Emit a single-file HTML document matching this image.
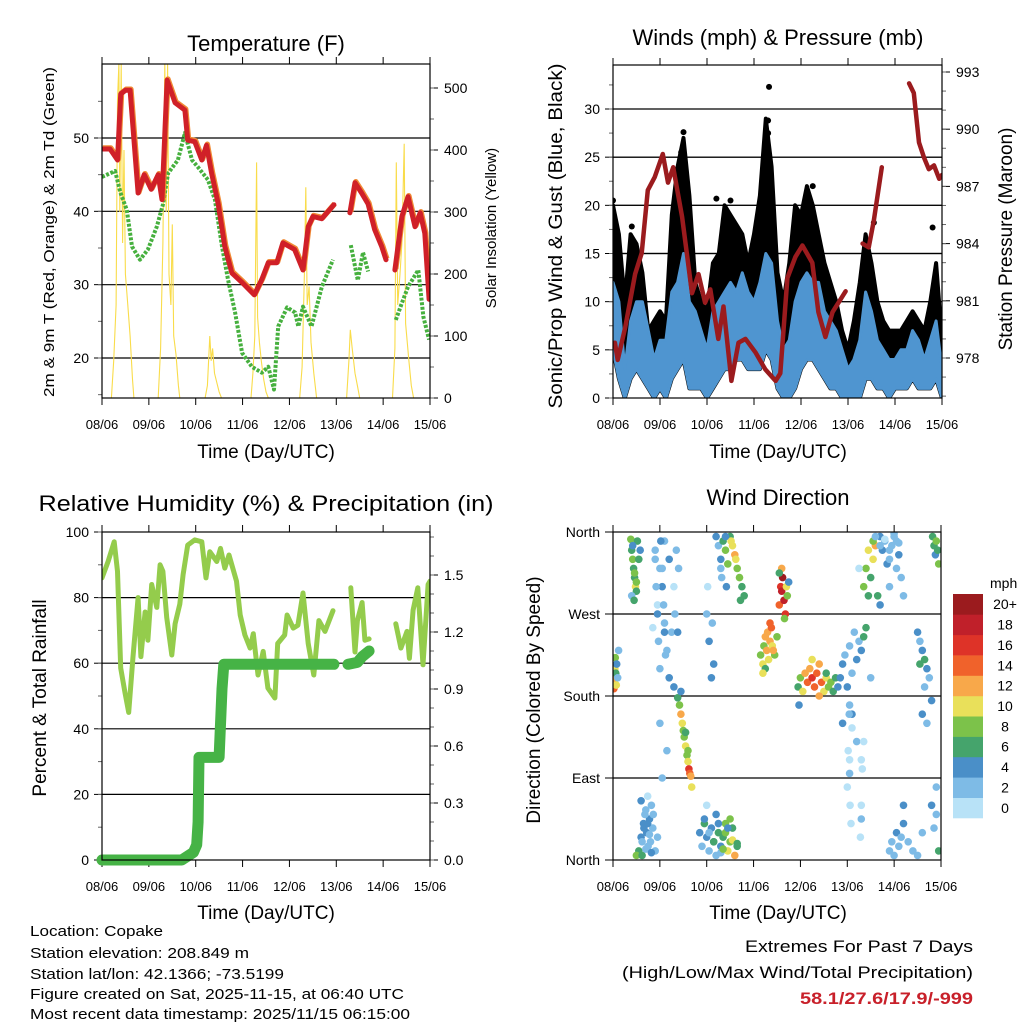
<!DOCTYPE html>
<html><head><meta charset="utf-8"><style>
html,body{margin:0;padding:0;background:#fff}
svg{display:block;font-family:"Liberation Sans",sans-serif}
</style></head><body>
<svg id="chart" width="1024" height="1024" viewBox="0 0 1024 1024" xmlns="http://www.w3.org/2000/svg">
<rect width="1024" height="1024" fill="#fff"/>
<text x="266" y="51" font-size="22" text-anchor="middle">Temperature (F)</text>
<text x="778" y="45" font-size="22" text-anchor="middle">Winds (mph) &amp; Pressure (mb)</text>
<text x="266" y="511" font-size="22" text-anchor="middle" textLength="455" lengthAdjust="spacingAndGlyphs">Relative Humidity (%) &amp; Precipitation (in)</text>
<text x="778" y="505" font-size="22" text-anchor="middle">Wind Direction</text>
<text transform="translate(54,232) rotate(-90)" font-size="15" text-anchor="middle" textLength="330" lengthAdjust="spacingAndGlyphs">2m &amp; 9m T (Red, Orange) &amp; 2m Td (Green)</text>
<text transform="translate(496,228) rotate(-90)" font-size="15" text-anchor="middle">Solar Insolation (Yellow)</text>
<text transform="translate(562,236) rotate(-90)" font-size="19" text-anchor="middle" textLength="345" lengthAdjust="spacingAndGlyphs">Sonic/Prop Wind &amp; Gust (Blue, Black)</text>
<text transform="translate(1012,239) rotate(-90)" font-size="19" text-anchor="middle">Station Pressure (Maroon)</text>
<text transform="translate(46,698) rotate(-90)" font-size="19" text-anchor="middle">Percent &amp; Total Rainfall</text>
<text transform="translate(540,700) rotate(-90)" font-size="19" text-anchor="middle">Direction (Colored By Speed)</text>
<text x="266" y="458" font-size="19" text-anchor="middle">Time (Day/UTC)</text>
<text x="778" y="458" font-size="19" text-anchor="middle">Time (Day/UTC)</text>
<text x="266" y="919" font-size="19" text-anchor="middle">Time (Day/UTC)</text>
<text x="778" y="919" font-size="19" text-anchor="middle">Time (Day/UTC)</text>
<g font-size="15">
<text x="30" y="936" textLength="133" lengthAdjust="spacingAndGlyphs">Location: Copake</text>
<text x="30" y="958" textLength="219" lengthAdjust="spacingAndGlyphs">Station elevation: 208.849 m</text>
<text x="30" y="979" textLength="254" lengthAdjust="spacingAndGlyphs">Station lat/lon: 42.1366; -73.5199</text>
<text x="30" y="999" textLength="374" lengthAdjust="spacingAndGlyphs">Figure created on Sat, 2025-11-15, at 06:40 UTC</text>
<text x="30" y="1019" textLength="380" lengthAdjust="spacingAndGlyphs">Most recent data timestamp: 2025/11/15 06:15:00</text>
</g>
<g font-size="17" text-anchor="end">
<text x="973" y="952" textLength="228" lengthAdjust="spacingAndGlyphs">Extremes For Past 7 Days</text>
<text x="973" y="978" textLength="351" lengthAdjust="spacingAndGlyphs">(High/Low/Max Wind/Total Precipitation)</text>
<text x="973" y="1004" font-weight="bold" fill="#c8202a" textLength="173" lengthAdjust="spacingAndGlyphs">58.1/27.6/17.9/-999</text>
</g>
</svg>
<script>
// ---------- DATA ----------
const dayLabels = ["08/06","09/06","10/06","11/06","12/06","13/06","14/06","15/06"];
// Temperature (F)
const tempT = [0,0.17,0.33,0.4,0.5,0.6,0.77,0.9,1.05,1.2,1.28,1.39,1.56,1.77,1.83,1.98,2.13,2.23,2.34,2.48,2.62,2.77,2.99,3.25,3.41,3.55,3.73,3.86,4.11,4.29,4.4,4.5,4.69,4.95,null,5.29,5.4,5.54,5.68,5.82,5.97,6.06,null,6.25,6.4,6.53,6.68,6.79,6.89,6.98];
const tempF = [48.5,48.5,47,56,56.5,56.5,42.5,45,43,45,41.6,57.9,54.8,53.8,49.7,49.5,47,49,45.2,41,35.2,31.6,30.3,28.6,30.7,33,33,35.7,34.8,32,37.9,39.3,39,40.9,null,39.8,43.9,42.5,41,37.5,35.2,33.4,null,32,39.3,42,37.9,39.8,37,28];
const dewT = [0,0.28,0.39,0.53,0.64,0.81,0.98,1.17,1.3,1.41,1.62,1.77,1.92,2.05,2.26,2.41,2.56,2.69,2.84,2.99,3.2,3.41,3.55,3.67,3.76,3.95,4.12,4.19,4.29,4.47,4.69,4.93,null,5.31,5.46,5.57,5.68,null,6.27,6.4,6.53,6.75,6.86,6.98];
const dewF = [44.7,45.5,42.6,40.2,35.2,33.4,34.8,37.9,40.9,45.2,47,50.7,47,46,44.3,41.6,35.2,30.7,26.2,20.7,18.8,18,18.8,15.7,24.3,26.9,26.2,24.3,27,24.3,29.7,33.4,null,35.4,30.6,34.4,31.8,null,25.2,27.5,29.7,32,25.6,22.5];
const solarT = [0.2,0.25,0.3,0.33,0.36,0.38,0.41,0.44,0.47,0.5,0.55,0.6,0.65,0.68, 1.2,1.25,1.3,1.34,1.37,1.4,1.43,1.47,1.5,1.53,1.58,1.63,1.66, 2.2,2.25,2.3,2.33,2.36,2.4,2.45,2.5,2.55, 3.18,3.22,3.26,3.3,3.32,3.36,3.4,3.45,3.5,3.55, 4.22,4.27,4.32,4.35,4.38,4.42,4.46,4.52,4.58, 5.22,5.27,5.3,5.34,5.4,5.45,5.5, 6.2,6.25,6.28,6.31,6.36,6.4,6.45,6.48,6.55,6.6,6.65];
const solarW = [0,60,150,480,540,300,540,250,400,200,150,100,30,0, 0,80,250,540,300,540,200,150,280,100,70,20,0, 0,20,100,60,80,40,25,10,0, 0,40,100,380,130,90,60,30,10,0, 0,50,200,340,150,180,90,40,0, 0,60,110,80,40,20,0, 0,80,380,150,200,250,410,120,60,20,0];
// Winds (mph)
const windT = [0,0.125,0.25,0.375,0.5,0.625,0.75,0.875,1,1.125,1.25,1.375,1.5,1.625,1.75,1.875,2,2.125,2.25,2.375,2.5,2.625,2.75,2.875,3,3.125,3.25,3.375,3.5,3.625,3.75,3.875,4,4.125,4.25,4.375,4.5,4.625,4.75,4.875,5,5.125,5.25,5.375,5.5,5.625,5.75,5.875,6,6.125,6.25,6.375,6.5,6.625,6.75,6.875,7];
const windMax = [12,10,3,8,10,10,7,4, 6,6,11,12,15,10,9,7, 5,9,10,11,12,11,13,11, 10,12,15,14,8,5,6,10, 12,13,12,12,9,8,7,5, 3,4,6,11,9,6,5,4, 4,5,5,7,6,4,6,8,3];
const windMin = [5,2,0,2,3,2,1,0, 1,0,2,3,4,1,1,1, 0,1,2,3,3,4,4,3, 3,3,5,4,1,0,0,1, 3,4,4,3,2,1,1,0, 0,0,0,2,2,1,1,0, 1,1,1,2,1,1,1,2,0];
const gustMax = [20,17,10,17,16,13,7,8, 9,8,19,24,27,21,12,10, 9,14,15,20,19,18,17,14, 17,21,29,24,13,10,14,20, 19,22,20,17,14,12,10,7, 5,8,12,17,14,10,8,7, 7,7,8,9,8,7,10,14,6];
const gustPeakT = [0,0.4,1.45,1.5,2.2,2.5,3.3,3.3,3.32,4.25,5.55,6.8];
const gustPeakV = [20.5,17.8,25.5,27.6,20.7,20.5,27.5,28.8,32.3,22,18.2,17.7];
// Pressure (mb)
const presT = [0.04,0.1,0.26,0.47,0.61,0.74,0.89,1.06,1.17,1.28,1.47,1.68,1.82,1.96,2.07,2.24,2.35,2.52,2.67,2.82,3.03,3.24,3.46,3.56,3.71,3.88,4.03,4.24,4.37,4.52,4.67,4.95,null,5.31,5.44,5.55,5.72,null,6.3,6.4,6.51,6.62,6.72,6.83,6.94,7];
const presMb = [978.8,977.9,979.6,982.4,983.5,986.8,987.5,988.7,987.2,988,985.4,981.4,982.4,980.9,981.6,979,980.7,976.8,978.8,979,978.3,977.4,976.8,977.2,982.2,983.3,983.9,983,980.4,979.1,980.4,981.5,null,984,983.8,985.2,988,null,992.4,991.9,989.3,988.5,987.9,988.1,987.4,987.6];
// Relative humidity (%) and rainfall (in)
const rhT = [0,0.13,0.26,0.33,0.4,0.49,0.57,0.66,0.77,0.83,0.92,0.98,1.06,1.17,1.24,1.3,1.38,1.49,1.56,1.66,1.73,1.83,1.98,2.13,2.22,2.3,2.45,2.53,2.62,2.71,2.87,2.95,3.05,3.16,3.23,3.33,3.44,3.54,3.69,3.75,3.9,3.95,4.08,4.18,4.29,4.4,4.52,4.63,4.76,4.93,null,5.31,5.4,5.45,5.55,5.61,5.7,null,6.27,6.38,6.51,6.56,6.64,6.74,6.85,6.96,7];
const rhPct = [86,91,97,88,58.5,51,45,61.6,80,62,75.6,67,84,77,90,88,74,62.5,72,78,87,96,97.6,97,86,94,91,95,89,93,85,74.7,68.6,64.6,69,56.4,63.6,52.4,49.4,66,68.6,74.7,70.7,71.6,81.4,66,56.4,73,69.7,76,null,83,63.4,73,78.5,67,67.4,null,72,64.6,69.7,61.5,76.2,83,59.5,84,85];
const rainT = [0,1.7,1.95,2.02,2.05,2.07,2.5,2.56,2.6,2.7,4.95,null,5.25,5.45,5.55,5.7];
const rainIn = [0,0,0.04,0.08,0.2,0.54,0.54,0.9,1.03,1.03,1.03,null,1.03,1.04,1.07,1.1];
// Wind direction scatter
const dirT = [0.02,0.03,0.04,0.05,0.06,0.08,0.1,0.12,0.07,
0.38,0.4,0.42,0.44,0.46,0.48,0.5,0.52,0.42,0.46,0.5,0.55,0.58,0.4,0.45,
0.55,0.6,0.65,0.7,0.72,0.75,0.78,0.8,0.85,0.9,0.6,0.68,0.82,0.95,0.5,0.62,0.74,
0.9,1.0,1.05,1.1,1.15,1.2,1.25,0.95,1.1,1.2,1.3,1.0,1.15,0.85,1.05,
1.38,1.42,1.45,1.48,1.5,1.52,1.55,1.58,1.6,1.62,1.64,1.66,1.45,1.55,1.68,1.6,
1.85,1.9,1.95,2.0,2.05,2.1,2.15,2.2,2.25,2.3,2.35,2.4,2.45,2.5,2.55,2.6,2.65,2.0,2.2,2.4,2.5,2.3,
2.2,2.25,2.3,2.35,2.4,2.45,2.5,2.55,2.6,2.65,2.7,2.75,2.8,2.32,2.42,2.52,2.62,2.72,2.4,2.3,
3.15,3.2,3.22,3.25,3.28,3.3,3.32,3.35,3.38,3.4,3.45,3.5,3.25,3.35,3.42,3.2,
3.55,3.58,3.6,3.62,3.65,3.68,3.7,3.72,3.6,3.66,3.75,3.55,
3.95,4.0,4.05,4.1,4.15,4.2,4.25,4.3,4.35,4.4,4.45,4.5,4.55,4.6,4.65,4.7,4.75,4.8,3.97,4.25,4.4,4.55,
4.85,4.9,4.95,5.0,5.05,5.1,5.15,5.2,5.25,5.3,5.35,5.4,4.9,5.05,5.2,5.3,5.5,5.1,
5.35,5.4,5.45,5.5,5.55,5.6,5.65,5.7,5.75,5.8,5.85,5.9,5.95,6.0,6.05,6.1,6.15,6.2,5.45,5.55,5.7,5.9,6.05,5.25,
6.5,6.55,6.6,6.65,6.7,6.75,6.8,6.6,6.7,6.65,6.55,
5.9,5.95,6.0,6.05,6.1,6.15,6.2,6.3,6.4,6.5,6.6,6.8,6.9,6.95,6.2,6.9,6.85,
6.82,6.85,6.88,6.9,6.93,6.95,
5.05,5.05,5.1,5.3,5.3,5.32,5.35,5.28,
0.9,0.92,0.95,0.97,1.0,1.02,1.05,1.08,1.1,1.12,1.3,1.32,1.35,1.38,1.4,
2.0,2.05,2.1,2.12,2.15,2.02,
0.62,0.66,0.7,0.74,0.78,0.82,0.86,
1.95,2.05,2.15,2.25,2.35,2.45,2.55,2.65,
5.0,5.02,5.04,5.06,5.08,
5.6,5.7,5.8,5.9,6.0,6.1];
const dirDeg = [188,198,210,222,205,215,200,230,192,
352,340,330,320,310,300,295,350,345,315,305,330,340,290,285,
10,25,40,55,30,15,45,20,35,10,65,50,60,25,5,5,70,
340,320,300,260,230,200,250,280,350,330,190,150,120,255,90,
178,170,160,150,142,135,125,115,108,100,95,92,185,140,80,120,
30,15,40,25,10,35,20,5,30,15,25,40,10,20,35,5,15,60,50,30,45,8,
355,345,330,350,340,325,355,345,335,320,310,300,290,310,300,350,330,285,355,320,
225,215,235,245,230,250,220,240,255,235,225,245,210,260,230,205,
280,300,295,310,285,270,300,290,320,265,305,315,
190,200,185,205,195,210,200,190,205,215,195,185,200,190,195,185,200,190,170,220,180,205,
200,215,225,190,235,205,250,220,240,230,245,255,150,170,130,110,200,160,
300,320,340,310,330,345,290,355,340,350,325,300,345,355,350,335,310,290,290,350,280,330,320,320,
250,240,230,220,210,200,175,160,150,190,215,
10,20,5,30,15,25,40,20,10,5,30,60,50,10,60,80,35,
355,345,335,350,340,325,
110,95,145,60,45,100,130,25,
330,300,270,240,210,350,320,280,250,225,300,270,340,250,320,
270,240,200,260,215,300,
20,35,12,40,28,8,50,
45,30,20,40,12,35,22,18,
80,120,160,60,40,
355,345,352,340,358,348];
const dirSpd = [15,12,10,9,7,4,3,2,10,
9,7,8,7,6,10,6,7,5,8,9,6,4,3,6,
6,4,4,3,5,3,4,2,3,2,4,3,2,3,8,6,1,
2,3,4,2,3,4,3,1,2,4,5,2,3,1,3,
6,8,12,10,9,8,10,8,11,16,14,12,5,7,10,9,
4,3,7,4,2,5,4,3,6,5,7,8,10,9,7,12,6,1,4,8,9,2,
4,3,5,7,8,9,6,10,12,9,8,7,6,3,4,10,11,7,5,2,
8,10,9,12,12,13,11,12,14,11,9,8,7,15,13,10,
14,17,19,20,18,16,10,8,13,9,5,7,
7,9,10,12,15,13,16,14,15,12,14,11,10,8,9,7,6,5,4,11,13,7,
4,5,3,4,2,3,2,4,3,5,6,7,4,3,2,1,2,4,
8,9,10,7,11,12,6,5,4,3,4,3,2,3,2,4,3,2,7,9,5,2,3,1,
4,3,5,6,4,3,4,4,3,2,7,
3,2,3,4,3,2,4,3,2,3,2,4,3,7,4,3,2,
6,7,5,8,6,8,
1,2,1,1,2,1,1,1,
3,2,4,3,2,4,3,2,4,3,1,2,3,4,2,
2,4,5,3,4,1,
3,4,2,5,3,4,2,
5,3,6,4,8,5,10,7,
1,1,2,1,1,
2,3,1,2,3,2];
const speedLabels = ["0","2","4","6","8","10","12","14","16","18","20+"];
const speedColors = ["#b8e2f7","#7ebbe6","#4a8fc8","#45a46c","#7cc24a","#e9e05a","#f8a84a","#f0622b","#de3328","#c0202a","#9b1b1e"];
const tempTicks = [20,30,40,50];
const solarTicks = [0,100,200,300,400,500];
const windTicks = [0,5,10,15,20,25,30];
const presTicks = [978,981,984,987,990,993];
const rhTicks = [0,20,40,60,80,100];
const rainTicks = [0,0.3,0.6,0.9,1.2,1.5];
const dirTicks = [0,90,180,270,360];
const dirTickLabels = ["North","East","South","West","North"];

// ---------- HELPERS ----------
const NS = "http://www.w3.org/2000/svg";
const svg = document.getElementById("chart");
function mk(tag, attrs, parent){
  const e = document.createElementNS(NS, tag);
  for (const k in attrs) e.setAttribute(k, attrs[k]);
  (parent || svg).appendChild(e);
  return e;
}
function lin(d0,d1,r0,r1){ return v => r0 + (v-d0)/(d1-d0)*(r1-r0); }
function pathFrom(ts, vs, sx, sy){
  let d = "", pen = false;
  for (let i=0;i<ts.length;i++){
    if (ts[i]===null || vs[i]===null){ pen=false; continue; }
    d += (pen?"L":"M") + sx(ts[i]).toFixed(1) + " " + sy(vs[i]).toFixed(1) + " ";
    pen = true;
  }
  return d;
}
function panel(name, x0, y0, x1, y1){
  const g = mk("g", {});
  
  
  const clip = mk("clipPath", {id: name+"-clip"}, g);
  mk("rect", {x:x0, y:y0, width:x1-x0, height:y1-y0}, clip);
  return g;
}
function xAxis(g, x0, x1, y0, y1){
  const sx = lin(0,7,x0,x1);
  for (let i=0;i<dayLabels.length;i++){
    const x = sx(i);
    const tb = mk("line", {x1:x, x2:x, y1:y1, y2:y1+7, stroke:"#000", "stroke-width":1}, g);
    
    
    const tt = mk("line", {x1:x, x2:x, y1:y0, y2:y0-7, stroke:"#000", "stroke-width":1}, g);
    
    
    const lb = mk("text", {x:x, y:y1+31, "font-size":13, "text-anchor":"middle"}, g);
    
    
    lb.textContent = dayLabels[i];
  }
  return sx;
}
function leftTicks(g, ticks, labels, sy, x0, x1, grid, minorStep, dmin, dmax){
  for (let i=0;i<ticks.length;i++){
    const y = sy(ticks[i]);
    if (grid && i>0 && i<ticks.length-1 || grid==="all"){
      const gl = mk("line", {x1:x0, x2:x1, y1:y, y2:y, stroke:"#000", "stroke-width":1.2}, g);
      
      
    }
    const tk = mk("line", {x1:x0-8, x2:x0, y1:y, y2:y, stroke:"#000"}, g);
    
    
    const lb = mk("text", {x:x0-13, y:y+5, "font-size":14, "text-anchor":"end"}, g);
    
    
    lb.textContent = labels[i];
  }
  if (minorStep){
    for (let v=Math.ceil(dmin/minorStep)*minorStep; v<=dmax; v+=minorStep){
      const mt = mk("line", {x1:x0-4, x2:x0, y1:sy(v), y2:sy(v), stroke:"#666"}, g);
      
      
    }
  }
}
function rightTicks(g, ticks, labels, sy, x1, minorStep, dmin, dmax){
  for (let i=0;i<ticks.length;i++){
    const y = sy(ticks[i]);
    const tk = mk("line", {x1:x1, x2:x1+8, y1:y, y2:y, stroke:"#000"}, g);
    
    
    const lb = mk("text", {x:x1+14, y:y+5, "font-size":14}, g);
    
    
    lb.textContent = labels[i];
  }
  if (minorStep){
    for (let v=Math.ceil(dmin/minorStep)*minorStep; v<=dmax; v+=minorStep){
      const mt = mk("line", {x1:x1, x2:x1+4, y1:sy(v), y2:sy(v), stroke:"#666"}, g);
      
      
    }
  }
}
function frame(g, x0,y0,x1,y1){
  const f = mk("rect", {x:x0, y:y0, width:x1-x0, height:y1-y0, fill:"none", stroke:"#000", "stroke-width":1.2}, g);
  
  
}

// ---------- PANEL 1: TEMPERATURE ----------
{
  const x0=102,y0=64,x1=430,y1=398;
  const g = panel("temperature-panel", x0,y0,x1,y1);
  const sx = xAxis(g,x0,x1,y0,y1);
  const sy = lin(20,50,358,138);
  const sySol = lin(0,500,398,88);
  leftTicks(g, tempTicks, tempTicks.map(String), sy, x0, x1, "all", 5, 15, 59);
  rightTicks(g, solarTicks, solarTicks.map(String), sySol, x1, 50, 0, 530);
  const cg = mk("g", {"clip-path":"url(#temperature-panel-clip)"}, g);
  const sol = mk("path", {d:pathFrom(solarT, solarW, sx, sySol), fill:"none", stroke:"#f9dc4a", "stroke-width":1.1}, cg);
  
  
  const dew = mk("path", {d:pathFrom(dewT, dewF, sx, sy), fill:"none", stroke:"#46b03e", "stroke-width":4, "stroke-dasharray":"3 1.6", "stroke-linejoin":"round"}, cg);
  
  
  const t9 = mk("path", {d:pathFrom(tempT, tempF, sx, sy), fill:"none", stroke:"#f08a35", "stroke-width":5.5, "stroke-linejoin":"round", transform:"translate(0.8,-1)"}, cg);
  
  
  const t2 = mk("path", {d:pathFrom(tempT, tempF, sx, sy), fill:"none", stroke:"#d02028", "stroke-width":5, "stroke-linejoin":"round", "stroke-linecap":"round"}, cg);
  
  
  frame(g,x0,y0,x1,y1);
}

// ---------- PANEL 2: WINDS & PRESSURE ----------
{
  const x0=613,y0=65,x1=942,y1=398;
  const g = panel("winds-panel", x0,y0,x1,y1);
  const sx = xAxis(g,x0,x1,y0,y1);
  const sy = lin(0,30,398,109);
  const syP = lin(978,993,358,72);
  leftTicks(g, windTicks, windTicks.map(String), sy, x0, x1, true, 2.5, 0, 34);
  for (const v of [5,10,15,20,25,30]){
    const gl = mk("line", {x1:x0, x2:x1, y1:sy(v), y2:sy(v), stroke:"#000", "stroke-width":1.2}, g);
    
    
  }
  rightTicks(g, presTicks, presTicks.map(String), syP, x1, 1, 976, 993);
  const cg = mk("g", {"clip-path":"url(#winds-panel-clip)"}, g);
  let d = "";
  for (let i=0;i<windT.length;i++) d += (i?"L":"M")+sx(windT[i]).toFixed(1)+" "+sy(gustMax[i]).toFixed(1)+" ";
  for (let i=windT.length-1;i>=0;i--) d += "L"+sx(windT[i]).toFixed(1)+" "+sy(windMin[i]).toFixed(1)+" ";
  const gb = mk("path", {d:d+"Z", fill:"#000", stroke:"#000", "stroke-width":4, "stroke-linejoin":"round"}, cg);
  
  
  for (let i=0;i<gustPeakT.length;i++){
    const c = mk("circle", {cx:sx(gustPeakT[i]), cy:sy(gustPeakV[i]), r:3, fill:"#000"}, cg);
    
    
  }
  let d2 = "";
  for (let i=0;i<windT.length;i++) d2 += (i?"L":"M")+sx(windT[i]).toFixed(1)+" "+sy(windMax[i]).toFixed(1)+" ";
  for (let i=windT.length-1;i>=0;i--) d2 += "L"+sx(windT[i]).toFixed(1)+" "+sy(windMin[i]).toFixed(1)+" ";
  const wb = mk("path", {d:d2+"Z", fill:"#4f95d0", stroke:"#4f95d0", "stroke-width":3, "stroke-linejoin":"round"}, cg);
  
  
  const pr = mk("path", {d:pathFrom(presT, presMb, sx, syP), fill:"none", stroke:"#9b1b1e", "stroke-width":4.5, "stroke-linejoin":"round", "stroke-linecap":"round"}, cg);
  
  
  frame(g,x0,y0,x1,y1);
}

// ---------- PANEL 3: RH & PRECIP ----------
{
  const x0=102,y0=532,x1=430,y1=860;
  const g = panel("humidity-panel", x0,y0,x1,y1);
  const sx = xAxis(g,x0,x1,y0,y1);
  const sy = lin(0,100,860,532);
  const syR = lin(0,1.5,860,575);
  leftTicks(g, rhTicks, rhTicks.map(String), sy, x0, x1, true, 10, 0, 100);
  rightTicks(g, rainTicks, rainTicks.map(v=>v.toFixed(1)), syR, x1, 0.1, 0, 1.72);
  const cg = mk("g", {"clip-path":"url(#humidity-panel-clip)"}, g);
  const rh = mk("path", {d:pathFrom(rhT, rhPct, sx, sy), fill:"none", stroke:"#94cc4c", "stroke-width":5, "stroke-linejoin":"round", "stroke-linecap":"round"}, cg);
  
  
  const rn = mk("path", {d:pathFrom(rainT, rainIn, sx, syR), fill:"none", stroke:"#46b346", "stroke-width":11, "stroke-linejoin":"round", "stroke-linecap":"round"}, g);
  
  
  frame(g,x0,y0,x1,y1);
}

// ---------- PANEL 4: WIND DIRECTION ----------
{
  const x0=613,y0=532,x1=941,y1=860;
  const g = panel("direction-panel", x0,y0,x1,y1);
  const sx = xAxis(g,x0,x1,y0,y1);
  const sy = lin(0,360,860,532);
  leftTicks(g, dirTicks, dirTickLabels, sy, x0, x1, true, 0, 0, 0);
  const cg = mk("g", {"clip-path":"url(#direction-panel-clip)"}, g);
  for (let i=0;i<dirT.length;i++){
    const bin = Math.min(10, Math.floor(dirSpd[i]/2));
    const c = mk("circle", {cx:sx(dirT[i]).toFixed(1), cy:sy(dirDeg[i]).toFixed(1), r:3.8, fill:speedColors[bin]}, cg);
    
    
  }
  frame(g,x0,y0,x1,y1);
  const cb = mk("g", {});
  
  
  const ut = mk("text", {x:990, y:588, "font-size":14}, cb);
  
  
  ut.textContent = "mph";
  const h = 224/speedColors.length;
  for (let i=0;i<speedColors.length;i++){
    const y = 818 - (i+1)*h;
    const r = mk("rect", {x:953, y:y.toFixed(1), width:30, height:(h+0.3).toFixed(1), fill:speedColors[i]}, cb);
    
    
    const t = mk("text", {x:1005, y:(y+h/2+5).toFixed(1), "font-size":14, "text-anchor":"middle"}, cb);
    
    
    t.textContent = speedLabels[i];
  }
}
</script>
</body></html>
